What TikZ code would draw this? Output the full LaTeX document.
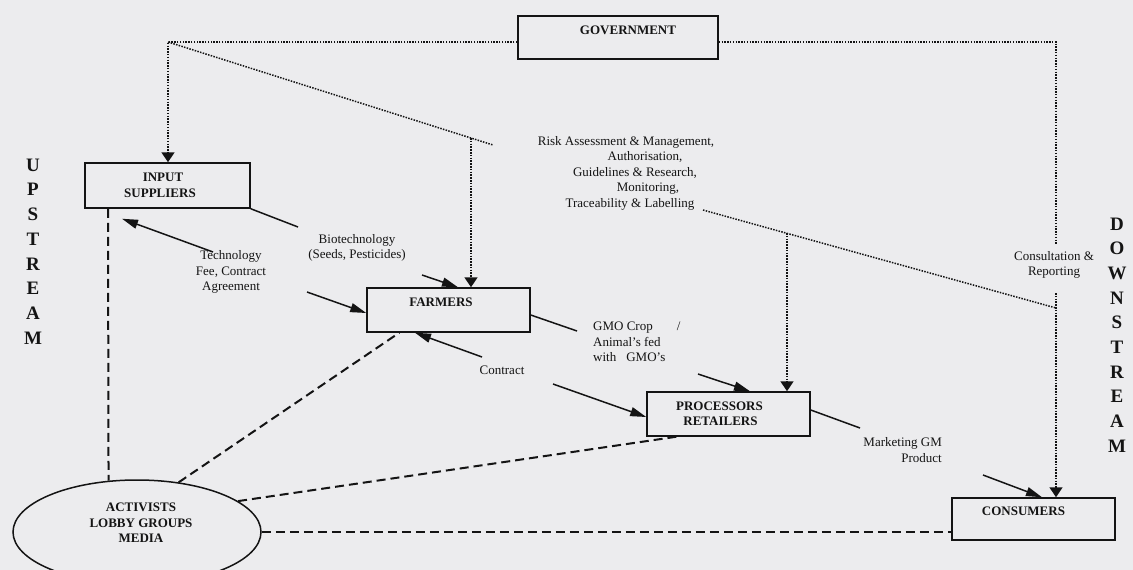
\documentclass[tikz,border=0pt]{standalone}
\usepackage{fontspec}
\setmainfont{Liberation Serif}
\usetikzlibrary{arrows.meta,shapes.geometric}
\definecolor{ink}{RGB}{20,20,20}
\definecolor{paper}{RGB}{236,236,238}
\newcommand{\bxfont}{\fontsize{13}{15.5}\selectfont\bfseries}
\newcommand{\lbfont}{\fontsize{13}{15.5}\selectfont}
\newcommand{\strmfont}{\fontsize{19}{24.7}\selectfont\bfseries}
\tikzset{
  box/.style={draw=ink, line width=1.5pt, font=\bxfont, inner sep=0pt, text=ink},
  onebox/.style={box, text depth=15pt},
  sol/.style={draw=ink, line width=1.5pt},
  soltip/.style={sol, -{Triangle[length=16pt,width=9pt]}},
  dotl/.style={draw=ink, line width=1.5pt, dash pattern=on 1.5pt off 1.3pt},
  dottip/.style={dotl, -{Triangle[length=10pt,width=13pt]}},
  dashl/.style={draw=ink, line width=2pt, dash pattern=on 9pt off 5pt},
  lab/.style={font=\lbfont, align=center, inner sep=0pt, text=ink},
  strm/.style={font=\strmfont, align=center, inner sep=0pt, text=ink}
}
\begin{document}
\begin{tikzpicture}[x=1pt,y=-1pt]
\fill[paper] (0,0) rectangle (1133,570);
\clip (0,0) rectangle (1133,570);
\useasboundingbox (0,0) rectangle (1133,570);

% boxes
\node[onebox, minimum width=200pt, minimum height=43pt] (gov) at (618,37.5) {\hspace*{20pt}GOVERNMENT};
\node[box, minimum width=165pt, minimum height=45pt, align=center] (insup) at (167.5,185.5) {\mbox{INPUT\hspace{9pt}}\\\mbox{SUPPLIERS\hspace{15pt}}};
\node[onebox, minimum width=163pt, minimum height=44pt] (farmers) at (448.5,310) {FARMERS\hspace*{15pt}};
\node[box, minimum width=163pt, minimum height=44pt, align=center] (proc) at (728.5,414) {\mbox{PROCESSORS\hspace{18pt}}\\\mbox{RETAILERS\hspace{16pt}}};
\node[onebox, minimum width=163pt, minimum height=42pt] (cons) at (1033.5,519) {CONSUMERS\hspace*{20pt}};
\node[draw=ink, line width=1.5pt, ellipse, minimum width=248pt, minimum height=104pt, inner sep=0pt] (act) at (137,532) {};
\node[lab, font=\bxfont] (acttext) at (141,523) {ACTIVISTS\\LOBBY GROUPS\\MEDIA};

% side words
\node[strm] (up) at (33,251.5) {U\\P\\S\\T\\R\\E\\A\\M};
\node[strm] (down) at (1117,335) {D\\O\\W\\N\\S\\T\\R\\E\\A\\M};

% labels
\node[lab] (risk) at (637,173) {\mbox{Risk Assessment \& Management,\hspace{22pt}}\\\mbox{\hspace{16pt}Authorisation,}\\\mbox{Guidelines \& Research,\hspace{4pt}}\\\mbox{\hspace{22pt}Monitoring,}\\\mbox{Traceability \& Labelling\hspace{14pt}}};
\node[lab] (consl) at (1054,265) {Consultation \&\\Reporting};
\node[lab] (biol) at (357,248) {Biotechnology\\(Seeds, Pesticides)};
\node[lab] (techl) at (231,272) {Technology\\Fee, Contract\\Agreement};
\node[lab, align=left, anchor=west] (gmol) at (593,342) {GMO Crop\hspace{24pt}/\\Animal's fed\\with\hspace{10pt}GMO's};
\node[lab] (contl) at (502,370) {Contract};
\node[lab, align=right, anchor=east] (markl) at (942,450) {Marketing GM\\Product};

% coordinates (free ends)
\coordinate (tl) at (168,42);
\coordinate (tr) at (1056,42);
\coordinate (c1) at (1056,245);
\coordinate (c2) at (1056,293);
\coordinate (d1) at (493,145);
\coordinate (d2) at (703,210);
\coordinate (d3) at (1056,308);
\coordinate (j1) at (471,138);
\coordinate (j2) at (787,233);
\coordinate (b1) at (298,227);
\coordinate (b2) at (422,275);
\coordinate (t1) at (213,252);
\coordinate (t2) at (307,292);
\coordinate (g1) at (577,331);
\coordinate (g2) at (698,374);
\coordinate (k1) at (482,357);
\coordinate (k2) at (553,384);
\coordinate (m1) at (860,428);
\coordinate (m2) at (983,475);

% government dotted lines
\draw[dottip] ([yshift=-4.5pt]gov.west) -- (tl) -- (insup.north -| tl);
\draw[dotl] ([yshift=-4.5pt]gov.east) -- (tr) -- (c1);
\draw[dottip] (c2) -- (cons.north -| c2);
\draw[dotl] (tl) -- (d1);
\draw[dotl] (d2) -- (d3);
\draw[dottip] (j1) -- (farmers.north -| j1);
\draw[dottip] (j2) -- (proc.north -| j2);

% solid flows
\draw[sol] (insup.south east) -- (b1);
\draw[soltip] (b2) -- ([xshift=9.5pt]farmers.north);
\draw[soltip] (t1) -- ([xshift=-45.5pt,yshift=-10pt]insup.south);
\draw[soltip] (t2) -- ([yshift=-3pt]farmers.west);
\draw[sol] ([yshift=-5pt]farmers.east) -- (g1);
\draw[soltip] (g2) -- ([xshift=21.5pt]proc.north);
\draw[soltip] (k1) -- ([xshift=-33.5pt]farmers.south);
\draw[soltip] (k2) -- ([yshift=-3pt]proc.west);
\draw[sol] ([yshift=4pt]proc.east) -- (m1);
\draw[soltip] (m2) -- ([xshift=8.5pt]cons.north);

% dashed influence lines
\draw[dashl] ([xshift=-59.5pt]insup.south) -- (act.119.6);
\draw[dashl] (act.50) -- ([xshift=33pt]farmers.south west);
\draw[dashl] (act.17.2) -- ([xshift=30pt]proc.south west);
\draw[dashl] (act.east) -- (act.east -| cons.west);
\end{tikzpicture}
\end{document}
